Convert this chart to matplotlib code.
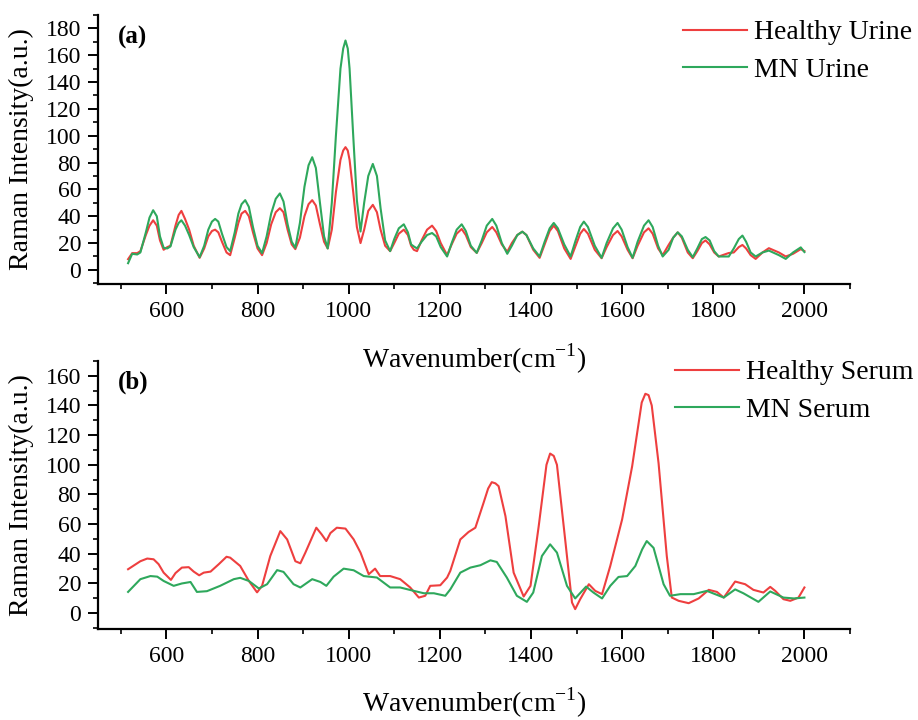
import matplotlib
matplotlib.use('Agg')
import matplotlib.pyplot as plt
from matplotlib.ticker import MultipleLocator

plt.rcParams['font.family'] = ['Liberation Serif', 'DejaVu Serif']
plt.rcParams['mathtext.fontset'] = 'custom'
plt.rcParams['mathtext.rm'] = 'Liberation Serif'

# (a) urine spectra
urine_wn = [516, 525, 536, 543, 555, 563, 571, 579, 586, 594, 602, 609, 620, 627, 633, 641, 650, 660,
            673, 683, 692, 700, 707, 714, 722, 732, 740, 750, 758, 765, 773, 781, 790, 800, 810, 820,
            830, 840, 849, 857, 866, 875, 883, 893, 903, 912, 920, 928, 937, 946, 954, 963, 972, 982,
            988, 993, 998, 1002, 1010, 1018, 1026, 1034, 1043, 1053, 1062, 1070, 1080, 1091, 1100, 1110, 1121,
            1130, 1137, 1143, 1150, 1160, 1172, 1183, 1192, 1202, 1216, 1226, 1237, 1248, 1257, 1268,
            1281, 1292, 1303, 1315, 1324, 1336, 1348, 1358, 1370, 1381, 1390, 1405, 1419, 1430, 1441,
            1450, 1459, 1473, 1487, 1498, 1508, 1516, 1525, 1540, 1555, 1566, 1580, 1590, 1599, 1612,
            1623, 1634, 1648, 1658, 1667, 1679, 1689, 1702, 1712, 1722, 1731, 1744, 1755, 1765, 1775,
            1783, 1792, 1802, 1812, 1834, 1845, 1856, 1864, 1872, 1882, 1893, 1908, 1922, 1944, 1959,
            1975, 1992, 2000]
healthy_urine = [8, 12.5, 12.5, 14, 26, 33, 37, 33, 22, 15, 17, 18, 33, 41, 44, 38, 30, 18,
                 9, 16, 25, 29, 30, 28, 21, 13, 11, 24, 35, 42, 44, 40, 28, 16, 11, 20,
                 34, 43, 46, 43, 30, 19, 15.5, 24, 40, 49, 52, 48, 34, 21, 16, 30, 58, 82,
                 89, 91.5, 89, 82, 58, 32, 20, 30, 44, 48.5, 43, 30, 18, 14, 20, 27, 30,
                 26, 18, 15, 14, 22, 30, 33, 29, 20, 11, 19, 27, 30.5, 26, 17,
                 12.7, 20, 28, 32, 28, 19, 13.5, 20, 26, 28.5, 26, 15, 9, 19, 29,
                 33, 29, 16, 8.2, 18, 27, 30.5, 27, 15, 8.7, 17, 26, 29, 25, 15,
                 8.7, 18, 28, 31, 27, 16, 11, 18.6, 24, 28, 24, 13, 8.7, 14, 20,
                 22, 19, 13, 10, 12.6, 13, 17, 18.6, 16, 11, 8.2, 13, 16.2, 13, 10,
                 12, 15.5, 14]
mn_urine = [5, 12, 11.5, 13, 28, 39, 44.5, 40, 25, 16.5, 16, 17.5, 30, 35, 37, 33, 26, 17,
            9.5, 18, 30, 36, 38, 36, 27, 17, 14, 28, 42, 49, 52, 47, 32, 18, 12.5, 25,
            42, 53, 57, 51, 34, 21, 16.5, 35, 62, 78, 84, 76, 50, 25, 16, 50, 100, 150,
            165, 171, 165, 150, 100, 52, 28.6, 50, 70, 79, 70, 46, 22, 14, 23, 31, 34,
            28, 19, 17.5, 16, 21, 26, 27.5, 25, 17, 10, 20, 30, 34, 29, 18,
            12.7, 22, 33, 38, 33, 20, 12, 18, 26, 28.5, 26, 16, 10, 21, 31,
            35, 31, 19, 10, 22, 32, 36, 32, 18, 9, 20, 31, 35, 30, 17,
            9, 21, 33, 37, 32, 18, 10, 15, 24, 28, 25, 15, 9.5, 16, 23,
            24.5, 22, 14, 10, 10, 16, 23, 25.6, 21, 13, 10, 13, 14.4, 11, 8.2,
            13, 16.8, 13.3]

# (b) serum spectra
serum_wn_h = [516, 543, 558, 572, 583, 594, 610, 620, 634, 649, 660, 672, 682, 697, 715, 732, 740,
              762, 781, 799, 810, 828, 850, 865, 883, 894, 905, 929, 941, 951, 960, 974, 993, 1011,
              1026, 1044, 1058, 1069, 1091, 1113, 1135, 1154, 1168, 1179, 1201, 1216, 1223, 1245,
              1263, 1278, 1296, 1306, 1314, 1322, 1329, 1344, 1362, 1384, 1399, 1417, 1434, 1442, 1450,
              1457, 1475, 1490, 1497, 1508, 1527, 1541, 1556, 1574, 1600, 1622, 1643, 1651, 1658, 1665,
              1680, 1698, 1709, 1724, 1746, 1768, 1790, 1808, 1823, 1848, 1870, 1888, 1910, 1925, 1936,
              1954, 1969, 1987, 2000]
healthy_serum = [29.6, 35, 36.8, 36.3, 33, 27.3, 22.4, 27, 30.7, 31, 28, 25.5, 27.3, 28, 33, 38, 37.4,
                 31.8, 21.7, 14, 18.4, 38.5, 55.3, 49.7, 35, 33.6, 40.8, 57.6, 53, 48.6, 54, 57.6, 57, 49.7,
                 40.8, 26.2, 30, 25, 25, 22.9, 17.3, 10.5, 11.7, 18.4, 18.8, 24, 28.5, 49.7,
                 54.7, 57.6, 74.4, 84, 88.3, 87.5, 85.6, 65.4, 27.3, 11.2, 18.4, 58.7, 100, 107.6, 106,
                 100, 49.7, 7.2, 2.7, 9.4, 19.5, 15, 12.8, 31.8, 63.2, 99, 142, 147.9, 147, 140,
                 101, 38.5, 10.5, 8.3, 6.7, 9.9, 15.7, 14.3, 10.5, 21.3, 19.5, 15.7, 13.9, 17.7, 15,
                 9.4, 8.3, 10.5, 17.3]
serum_wn_mn = [516, 543, 565, 580, 594, 616, 634, 653, 667, 689, 718, 748, 762, 781, 803, 821, 843,
               857, 879, 894, 920, 938, 951, 967, 989, 1011, 1033, 1062, 1091, 1113, 1143, 1165, 1187,
               1212, 1223, 1245, 1267, 1289, 1311, 1325, 1347, 1369, 1391, 1405, 1424, 1442, 1457,
               1479, 1497, 1521, 1537, 1556, 1574, 1592, 1611, 1629, 1644, 1654, 1669, 1691, 1705, 1728,
               1757, 1786, 1823, 1848, 1866, 1899, 1925, 1954, 1977, 2000]
mn_serum = [14.3, 22.9, 25, 24.6, 21.7, 18.4, 20, 21, 14.3, 14.8, 18.4, 22.9, 23.8, 21.7, 16.6, 19.5, 29,
            27.8, 19.5, 17.3, 22.9, 21, 18.4, 24.6, 30, 28.9, 25, 24, 17.3, 17.3, 15, 13.4, 13.4,
            11.7, 16, 27.3, 30.7, 32.3, 35.6, 34.5, 24, 11.7, 7.6, 13.9, 38.5, 46.4, 40.8,
            18.4, 9.9, 17.9, 13.9, 9.9, 18.4, 24.4, 25, 31.8, 43, 48.6, 44, 19.5, 11.7, 12.8,
            12.8, 15, 10.5, 16, 13.4, 7.6, 14.6, 10.5, 9.9, 10.5]

red = '#EE3F3F'
green = '#2EA85C'

fig = plt.figure(figsize=(9.18, 7.2), dpi=100)
ax1 = fig.add_axes([98/918, 1 - 284/720, 752/918, 269/720])
ax2 = fig.add_axes([98/918, 1 - 629/720, 752/918, 268/720])
ax2.patch.set_visible(False)

ax1.plot(urine_wn, healthy_urine, color=red, lw=1.5, label='Healthy Urine')
ax1.plot(urine_wn, mn_urine, color=green, lw=1.5, label='MN Urine')
ax2.plot(serum_wn_h, healthy_serum, color=red, lw=1.5, label='Healthy Serum')
ax2.plot(serum_wn_mn, mn_serum, color=green, lw=1.5, label='MN Serum')

ax1.set_ylim(-10.5, 190)
ax2.set_ylim(-10.7, 170)
ax1.yaxis.set_major_locator(MultipleLocator(20))
ax2.yaxis.set_major_locator(MultipleLocator(20))

for ax, tag, ytop in [(ax1, '(a)', 0.918), (ax2, '(b)', 0.922)]:
    ax.set_xlim(450, 2100)
    ax.xaxis.set_major_locator(MultipleLocator(200))
    ax.xaxis.set_minor_locator(MultipleLocator(100))
    ax.yaxis.set_minor_locator(MultipleLocator(10))
    for s in ['top', 'right']:
        ax.spines[s].set_visible(False)
    for s in ['left', 'bottom']:
        ax.spines[s].set_linewidth(1.6)
    ax.tick_params(which='major', direction='out', length=7.2, width=1.4, labelsize=17, pad=5)
    ax.tick_params(which='minor', direction='out', length=3.5, width=1.2)
    ax.set_ylabel('Raman Intensity(a.u.)', fontsize=20)
    ax.yaxis.set_label_coords(-0.085, 0.5)
    ax.set_xlabel('Wavenumber(cm$^{-1}$)', fontsize=20, va='baseline')
    ax.text(0.027, ytop, tag, transform=ax.transAxes, fontsize=18, fontweight='bold', va='center')

ax1.xaxis.set_label_coords(0.5, -0.31)
ax2.xaxis.set_label_coords(0.5, -0.31)

ax1.legend(loc='upper left', bbox_to_anchor=(683/918, 1 - 20/720), bbox_transform=fig.transFigure,
           frameon=False, fontsize=20, handlelength=2.3, handletextpad=0.25, labelspacing=0.42,
           borderpad=0, borderaxespad=0)
ax2.legend(loc='upper left', bbox_to_anchor=(675/918, 1 - 360/720), bbox_transform=fig.transFigure,
           frameon=False, fontsize=20, handlelength=2.3, handletextpad=0.25, labelspacing=0.42,
           borderpad=0, borderaxespad=0)

plt.savefig('out.png', dpi=100)
